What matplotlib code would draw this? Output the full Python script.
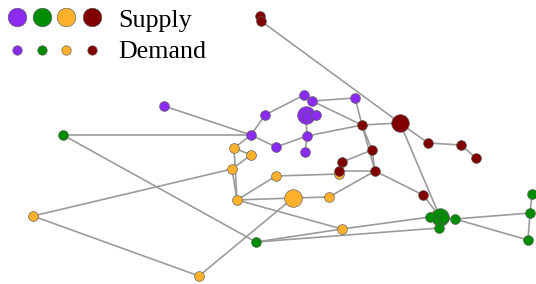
import matplotlib
matplotlib.use("Agg")
import matplotlib.pyplot as plt

# ---- data ----
colors = {"purple": "#8B2BEF", "green": "#008C00", "orange": "#FFB12B", "red": "#800000"}
categories = ["purple", "green", "orange", "red"]

# nodes: name, x, y, category, kind (S = supply, D = demand); listed in drawing order
node_names = ["o1", "o2", "o3", "o4", "o5", "o6", "o7", "o8", "o9", "o10", "o11", "o12",
              "g1", "g2", "g3", "g4", "g5", "g6", "g7", "g8", "g9", "g10",
              "r1", "r2", "r3", "r4", "r5", "r6", "r7", "r8", "r9", "r10", "r11", "r12",
              "p0", "p00", "p1", "p2", "p3", "p4", "p5", "p6", "p7", "p8", "p9", "p10"]
node_x = [234, 251, 232, 276, 237, 293, 329, 339, 342, 33, 199, 434,
          63, 256, 440, 430, 444, 439, 455, 532, 530, 528,
          260, 261, 400, 362, 428, 461, 476, 372, 342, 339, 375, 423,
          306, 306.5, 164, 265, 304, 312, 355, 251, 276, 307, 305, 316]
node_y = [148, 155, 169, 176, 200, 198, 197, 174, 229, 216, 276, 216,
          135, 242, 217, 217, 218, 228, 219, 194, 213, 240,
          16, 21, 123, 125, 143, 145, 158, 150, 162, 171, 171, 195,
          115, 116, 106, 115, 95, 101, 98, 135, 147, 136, 152, 115]
node_cat = ["orange"] * 12 + ["green"] * 10 + ["red"] * 12 + ["purple"] * 12
node_kind = ["D", "D", "D", "D", "D", "S", "D", "D", "D", "D", "D", "D",
             "D", "D", "S", "D", "D", "D", "D", "D", "D", "D",
             "D", "D", "S", "D", "D", "D", "D", "D", "D", "D", "D", "D",
             "S", "D", "D", "D", "D", "D", "D", "D", "D", "D", "D", "D"]

edges = [("g1", "p6"), ("g1", "g2"), ("p1", "p6"), ("p6", "p2"), ("p2", "p3"), ("p6", "p7"),
         ("p7", "p8"), ("p8", "p0"), ("p8", "p9"), ("p8", "r4"), ("p4", "p5"), ("p4", "r4"),
         ("p5", "r4"), ("r2", "r3"), ("r1", "r2"), ("r4", "r3"), ("r3", "r5"), ("r5", "r6"),
         ("r6", "r7"), ("r3", "g3"), ("r4", "r8"), ("r4", "r11"), ("r8", "r11"), ("r8", "r9"),
         ("r9", "r10"), ("r10", "r11"), ("r11", "r12"), ("r11", "o7"), ("r12", "g3"),
         ("o4", "o8"), ("o1", "p6"), ("o1", "o2"), ("o1", "o5"), ("o3", "o5"), ("o2", "o3"),
         ("o3", "o10"), ("o10", "o11"), ("o11", "o6"), ("o5", "o4"), ("o5", "o6"), ("o5", "o9"),
         ("o6", "o7"), ("g2", "o9"), ("o9", "g4"), ("g2", "g6"), ("g4", "g3"), ("g5", "g7"),
         ("g7", "g9"), ("g7", "g10"), ("g9", "g8"), ("g9", "g10")]

legend_labels = ["Supply", "Demand"]

# ---- figure ----
W, H, DPI = 536, 284, 100
fig = plt.figure(figsize=(W / DPI, H / DPI), dpi=DPI)
ax = fig.add_axes([0, 0, 1, 1])
ax.set_xlim(0, W)
ax.set_ylim(H, 0)
ax.axis("off")

px = 72.0 / DPI  # points per pixel
def size(r_px):
    return (2 * r_px * px) ** 2

idx = {n: i for i, n in enumerate(node_names)}
for a, b in edges:
    ia, ib = idx[a], idx[b]
    ax.plot([node_x[ia], node_x[ib]], [node_y[ia], node_y[ib]], color="#9a9a9a",
            lw=1.5 * px * 1.0 + 0.1, solid_capstyle="round", zorder=1)

for i in range(len(node_names)):
    r = 8.8 if node_kind[i] == "S" else 4.9
    ax.scatter([node_x[i]], [node_y[i]], s=size(r), color=colors[node_cat[i]],
               edgecolors="#5a5a5a", linewidths=0.45, zorder=2 + i * 0.01)

# legend
leg_x = [17, 42, 66, 92]
for j, c in enumerate(categories):
    ax.scatter([leg_x[j]], [17], s=size(9.3), color=colors[c], edgecolors="#5a5a5a",
               linewidths=0.45, zorder=5)
    ax.scatter([leg_x[j]], [50], s=size(4.7), color=colors[c], edgecolors="#5a5a5a",
               linewidths=0.45, zorder=5)
ax.text(118, 27, legend_labels[0], fontsize=26 * px, family="Liberation Serif",
        va="baseline", ha="left", color="black")
ax.text(118, 58.5, legend_labels[1], fontsize=26 * px, family="Liberation Serif",
        va="baseline", ha="left", color="black")

fig.savefig("out.png", dpi=DPI)
